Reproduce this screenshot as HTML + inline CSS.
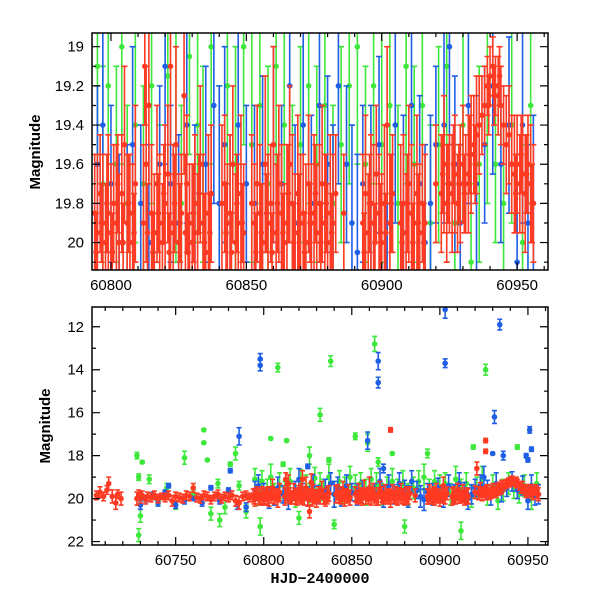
<!DOCTYPE html>
<html><head><meta charset="utf-8"><style>
body{margin:0;background:#fff;}
svg text{font-family:"Liberation Sans",sans-serif;font-size:15px;fill:#000;}
</style></head><body>
<svg id="chart" width="600" height="600" viewBox="0 0 600 600" xmlns="http://www.w3.org/2000/svg">
<defs>
<clipPath id="clipTop"><rect x="92" y="33" width="456" height="237"/></clipPath>
<clipPath id="clipBot"><rect x="92" y="307" width="456" height="238"/></clipPath>
</defs>
<g id="topMarks" clip-path="url(#clipTop)"></g>
<g id="botMarks" clip-path="url(#clipBot)"></g>
<g id="axes"></g>
<text x="40" y="152" transform="rotate(-90 40 152)" text-anchor="middle" style="font-weight:bold;font-size:15px">Magnitude</text>
<text x="50" y="426" transform="rotate(-90 50 426)" text-anchor="middle" style="font-weight:bold;font-size:15px">Magnitude</text>
<text x="320" y="583" text-anchor="middle" style="font-family:'Liberation Mono',monospace;font-weight:bold;font-size:15px">HJD−2400000</text>
</svg>
<script>
const redPoints=[[60705,19.85,0.2],[60707,19.7,0.25],[60709,19.9,0.2],[60711,19.6,0.2],[60712,19.3,0.3],[60714,19.9,0.3],[60716,20.2,0.3],[60717,19.8,0.2],[60719,20.0,0.3],
[60728,20.0,0.3],[60729,19.8,0.2],[60730,19.95,0.25],[60731,19.85,0.2],[60733,20.05,0.2],[60734,19.9,0.2],[60736,19.95,0.2],[60738,19.85,0.2],[60740,20.0,0.2],[60742,19.9,0.15],[60744,19.95,0.2],[60746,19.85,0.2],[60748,20.1,0.25],[60750,19.9,0.2],[60752,19.95,0.2],[60754,20.0,0.2],[60756,19.85,0.2],[60758,19.9,0.2],[60760,19.5,0.2],[60762,19.95,0.2],[60764,20.0,0.2],[60766,19.85,0.2],[60768,19.9,0.2],[60770,20.05,0.2],[60772,19.9,0.2],[60774,19.8,0.2],[60776,20.0,0.2],[60778,19.9,0.2],[60780,19.95,0.2],[60782,19.85,0.2],[60784,20.1,0.25],[60786,20.2,0.3],[60788,19.9,0.2],[60790,19.85,0.2],[60792,19.95,0.2],
[60794,19.85,0.3],[60795,19.95,0.4],[60796,19.75,0.3],[60797,19.9,0.35],[60798,20.0,0.3],[60799,19.85,0.4],[60800,19.95,0.35],[60801,19.8,0.3],[60802,19.9,0.4],[60803,20.0,0.35],[60804,19.75,0.3],[60805,19.5,0.4],[60806,19.9,0.35],[60807,19.85,0.3],[60808,20.0,0.4],[60809,19.7,0.4],
[60812,19.9,0.4],[60812.5,19.1,0.3],[60813,19.6,0.5],[60814,19.3,0.4],[60815,19.85,0.35],[60816,19.95,0.3],[60817,19.7,0.4],[60818,19.9,0.35],[60819,20.0,0.3],[60820,19.8,0.4],[60821,19.65,0.35],[60822,19.95,0.3],[60823,19.9,0.4],[60824,19.5,0.5],[60825,20.0,0.35],[60826,19.85,0.3],[60827,19.25,0.4],[60827.5,19.95,0.4],[60828,19.7,0.35],[60829,19.9,0.3],[60830,20.0,0.4],[60831,19.8,0.35],[60832,19.95,0.3],[60833,19.6,0.4],[60834,19.9,0.35],[60835,20.05,0.3],[60836,19.85,0.4],[60837,19.75,0.35],
[60841,19.8,0.4],[60842,19.7,0.35],[60843,19.9,0.3],[60844,19.85,0.4],[60845,19.6,0.4],[60846,20.0,0.35],[60847,19.9,0.3],[60848,19.75,0.4],[60849,19.95,0.35],
[60852,19.8,0.35],[60853,19.9,0.3],[60854,19.7,0.4],[60855,19.85,0.35],[60856,20.0,0.3],[60857,19.6,0.45],[60858,19.9,0.35],[60859,19.8,0.3],[60860,19.5,0.5],[60861,19.95,0.35],[60862,19.7,0.4],[60863,19.85,0.35],[60864,20.0,0.3],[60865,19.9,0.4],[60866,19.6,0.4],[60867,19.8,0.35],[60868,19.95,0.3],[60869,19.75,0.4],[60870,19.9,0.35],[60871,19.85,0.3],[60872,20.0,0.4],[60873,19.7,0.35],[60874,19.9,0.3],[60875,19.85,0.4],[60876,19.95,0.35],[60877,19.8,0.3],[60878,19.7,0.4],[60879,19.9,0.35],[60880,20.0,0.3],[60881,19.85,0.4],[60882,19.9,0.35],[60883,19.75,0.3],
[60886,19.85,0.3],[60893,19.9,0.35],[60894,19.75,0.4],[60895,19.95,0.3],[60896,19.8,0.35],[60897,19.9,0.4],[60898,19.65,0.35],[60899,19.85,0.3],[60900,20.0,0.35],[60901,19.8,0.4],[60902,19.4,0.4],[60903,19.9,0.35],[60904,19.75,0.3],
[60907,19.9,0.4],[60908,19.8,0.35],[60909,19.95,0.3],[60910,19.7,0.4],[60911,19.85,0.35],[60912,19.9,0.3],[60913,19.75,0.4],[60914,19.95,0.35],[60915,19.8,0.3],[60916,19.9,0.35],
[60920,19.7,0.3],[60922,19.75,0.3],[60923,19.6,0.35],[60924,19.8,0.3],[60925,19.7,0.25],[60926,19.75,0.3],[60927,19.65,0.3],[60928,19.8,0.25],[60929,19.7,0.3],[60930,19.6,0.3],[60931,19.7,0.25],[60932,19.65,0.3],[60933,19.55,0.3],[60934,19.5,0.25],[60935,19.45,0.3],[60936,19.4,0.25],[60937,19.35,0.2],[60938,19.3,0.2],[60939,19.2,0.15],[60940,19.15,0.15],[60941,19.1,0.15],[60942,19.2,0.15],[60943,19.25,0.2],[60944,19.3,0.2],[60945,19.4,0.2],[60946,19.5,0.25],[60947,19.45,0.25],[60948,19.6,0.25],[60949,19.65,0.3],[60950,19.6,0.25],[60951,19.7,0.25],[60952,19.65,0.3],[60953,19.75,0.3],[60954,19.6,0.25],[60955,19.7,0.3],[60956,19.8,0.3],
[60794.5,20.05,0.2],[60796.5,19.9,0.2],[60798.5,19.8,0.25],[60800.5,20.05,0.2],[60802.5,19.7,0.25],[60804.5,20.0,0.2],[60806.5,19.8,0.25],[60808.5,19.95,0.2],[60813.5,19.95,0.25],[60815.5,20.05,0.2],[60817.5,19.85,0.2],[60819.5,19.75,0.25],[60821.5,20.05,0.2],[60823.5,19.8,0.25],[60825.5,19.9,0.2],[60828.5,20.05,0.2],[60830.5,19.85,0.25],[60832.5,19.75,0.2],[60834.5,20.0,0.25],[60836.5,19.95,0.2],
[60842.5,19.95,0.25],[60844.5,20.05,0.2],[60846.5,19.8,0.25],[60848.5,19.9,0.2],[60853.5,20.05,0.2],[60855.5,19.95,0.25],[60857.5,19.85,0.2],[60859.5,20.05,0.2],[60861.5,19.8,0.25],[60863.5,19.95,0.2],[60865.5,19.75,0.25],[60867.5,20.0,0.2],[60869.5,19.9,0.25],[60871.5,20.05,0.2],[60873.5,19.9,0.2],[60875.5,19.75,0.25],[60877.5,20.0,0.2],[60879.5,19.8,0.25],[60881.5,19.95,0.2],
[60893.5,20.05,0.2],[60895.5,19.8,0.25],[60897.5,20.0,0.2],[60899.5,19.95,0.25],[60901.5,19.95,0.2],[60903.5,19.8,0.25],[60907.5,20.0,0.2],[60909.5,19.8,0.25],[60911.5,20.0,0.2],[60913.5,19.9,0.25],[60915.5,20.0,0.2],
[60922.5,19.65,0.2],[60924.5,19.7,0.2],[60926.5,19.6,0.2],[60928.5,19.7,0.2],[60930.5,19.75,0.2],[60932.5,19.55,0.2],[60934.5,19.6,0.2],[60939.5,19.3,0.15],[60941.5,19.25,0.15],[60943.5,19.15,0.15],[60949.5,19.75,0.2],[60951.5,19.55,0.2],[60953.5,19.65,0.2],[60955.5,19.8,0.2],
[60921,18.6,0.3],[60926,17.3,0.1],[60926,17.8,0.1],[60872,16.8,0.1],[60822,19.1,0.4],[60826,20.6,0.3]];
const bluePoints=[[60730,20.3,0.2],[60733,20.0,0.15],[60737,19.8,0.1],[60740,20.2,0.15],[60744,19.7,0.1],[60746,19.4,0.1],[60750,20.3,0.15],[60755,20.1,0.15],[60760,20.0,0.1],[60765,20.2,0.15],[60770,19.5,0.1],[60775,20.1,0.15],[60780,19.6,0.1],[60785,20.3,0.2],[60790,20.4,0.2],
[60795,19.6,0.4],[60797,19.4,0.5],[60800,19.7,0.4],[60803,20.0,0.45],[60806,19.9,0.4],[60808,19.5,0.5],[60811,19.8,0.4],[60814,20.0,0.5],[60818,19.6,0.4],[60820,19.1,0.5],[60822,19.7,0.4],[60825,19.9,0.45],[60828,19.4,0.5],[60831,19.8,0.4],[60835,19.6,0.5],[60838,19.3,0.5],[60840,19.8,0.6],[60842,19.5,0.5],[60844,19.9,0.45],[60847,19.4,0.5],[60850,19.7,0.4],[60853,19.8,0.5],[60856,19.6,0.45],[60860,19.5,0.5],[60863,19.7,0.4],[60866,19.2,0.6],[60868,19.9,0.5],[60871,19.4,0.5],[60874,19.8,0.45],[60877,19.3,0.5],[60880,19.6,0.45],[60882,19.9,0.5],[60884,19.2,0.5],[60887,19.6,0.4],[60889,19.9,0.5],[60891,20.05,0.5],[60893,19.7,0.4],[60896,19.8,0.5],[60899,19.5,0.45],[60902,19.9,0.5],[60905,19.4,0.5],[60908,19.8,0.45],[60911,19.3,0.5],[60914,19.7,0.45],[60916,20.0,0.5],[60918,19.8,0.45],[60920,19.5,0.4],[60923,19.4,0.5],[60925,19.0,0.5],[60927,19.6,0.45],[60929,19.9,0.4],[60932,19.3,0.5],[60935,19.7,0.45],[60938,19.5,0.4],[60941,19.2,0.45],[60944,19.6,0.4],[60947,19.4,0.45],[60950,20.1,0.4],[60952,19.4,0.5],[60954,19.9,0.4],[60956,19.8,0.45],
[60798,13.5,0.25],[60798,13.8,0.25],[60865,13.6,0.4],[60865,14.6,0.25],[60903,11.2,0.4],[60903,13.7,0.2],[60934,11.9,0.25],[60931,16.2,0.3],[60951,16.8,0.15],[60786,17.1,0.4],[60859,17.3,0.4],[60930,17.9,0.05],[60936,18.0,0.2],[60949,18.0,0.1],[60952,17.7,0.1],[60950,18.2,0.1],[60781,18.7,0.1],[60825,18.5,0.1],[60868,18.6,0.2]];
const greenPoints=[[60729,21.7,0.3],[60730,20.8,0.3],[60728,18.0,0.15],[60731,18.3,0.05],[60729,19.0,0.15],[60755,18.1,0.3],[60766,16.8,0.05],[60766,17.4,0.05],[60768,18.2,0.05],[60784,17.9,0.3],[60781,18.4,0.1],[60798,21.3,0.4],[60804,17.2,0.05],[60808,13.9,0.2],[60813,17.3,0.05],[60811,18.4,0.1],[60838,13.6,0.25],[60832,16.1,0.3],[60837,18.2,0.1],[60826,18.0,0.4],[60852,17.1,0.15],[60863,12.8,0.35],[60859,17.4,0.4],[60873,17.9,0.05],[60880,21.3,0.3],[60893,17.9,0.2],[60926,14.0,0.25],[60919,17.6,0.1],[60944,17.6,0.1],[60912,21.5,0.4],[60840,21.2,0.2],[60865,18.3,0.2],[60775,21.0,0.3],[60820,20.9,0.3],
[60735,19.1,0.2],[60740,20.1,0.2],[60745,19.5,0.2],[60750,20.3,0.2],[60760,19.8,0.2],[60770,20.7,0.3],[60774,19.3,0.2],[60778,20.4,0.3],[60786,19.4,0.2],[60790,20.6,0.3],
[60795,19.1,0.5],[60797,19.7,0.6],[60799,19.2,0.5],[60802,19.6,0.5],[60804,19.0,0.6],[60806,19.8,0.5],[60809,19.4,0.6],[60812,19.7,0.5],[60815,19.2,0.6],[60818,19.9,0.5],[60821,19.15,0.5],[60824,19.5,0.6],[60826,19.8,0.5],[60829,19.05,0.5],[60832,19.4,0.6],[60834,19.6,0.5],[60837,19.0,0.6],[60840,19.8,0.6],[60843,19.2,0.5],[60846,19.6,0.6],[60849,19.0,0.5],[60852,19.5,0.6],[60855,19.3,0.5],[60858,19.7,0.6],[60861,19.1,0.5],[60864,19.4,0.6],[60867,19.8,0.5],[60870,19.5,0.5],[60873,19.2,0.6],[60876,19.6,0.5],[60879,19.3,0.6],[60882,19.8,0.5],[60885,19.5,0.5],[60888,19.2,0.5],[60891,19.0,0.6],[60894,19.6,0.5],[60897,19.2,0.5],[60900,19.5,0.6],[60903,19.3,0.5],[60906,19.8,0.5],[60909,19.1,0.6],[60912,19.6,0.5],[60915,19.3,0.5],[60918,19.9,0.5],[60921,19.5,0.5],[60924,19.1,0.6],[60927,19.9,0.4],[60930,19.4,0.5],[60933,20.1,0.4],[60936,19.6,0.5],[60939,19.3,0.5],[60942,19.6,0.4],[60945,19.8,0.4],[60948,19.4,0.5],[60952,20.0,0.5],[60955,19.3,0.5]];
const topXTicks=[60800,60850,60900,60950];
const topYTicks=[19,19.2,19.4,19.6,19.8,20];
const botXTicks=[60750,60800,60850,60900,60950];
const botYTicks=[12,14,16,18,20,22];

const NS="http://www.w3.org/2000/svg";
function mk(tag,attrs,parent){const e=document.createElementNS(NS,tag);for(const k in attrs)e.setAttribute(k,attrs[k]);parent.appendChild(e);return e;}
const L=92,R=548;
const pTop={x0:60793,x1:60961.4,y0:18.93,y1:20.14,t:33,b:270};
const pBot={x0:60702.5,x1:60961.4,y0:11.08,y1:22.16,t:307,b:545};
function sx(p,v){return L+(v-p.x0)/(p.x1-p.x0)*(R-L);}
function sy(p,v){return p.t+(v-p.y0)/(p.y1-p.y0)*(p.b-p.t);}
const series=[["green",greenPoints,"#3ee83a"],["blue",bluePoints,"#1f5fe6"],["red",redPoints,"#ff3a22"]];
function drawPanel(p,g,r,cap,name){
  series.forEach(([nm,pts,col])=>{
    const sg=mk("g",{},g);
    
    
    pts.forEach(d=>{
      const x=sx(p,d[0]),y=sy(p,d[1]),ya=sy(p,d[1]-d[2]),yb=sy(p,d[1]+d[2]);
      mk("path",{d:`M${x},${ya}V${yb}M${x-cap},${ya}H${x+cap}M${x-cap},${yb}H${x+cap}`,stroke:col,"stroke-width":1.6,fill:"none"},sg);
      const c=mk("circle",{cx:x,cy:y,r:r,fill:col},sg);
      
      
    });
  });
}
drawPanel(pTop,document.getElementById("topMarks"),2.8,3,"top");
drawPanel(pBot,document.getElementById("botMarks"),2.8,2.5,"bottom");
const ax=document.getElementById("axes");
function frame(p,xt,yt,xminor,yminor,yfmt){
  mk("rect",{x:L,y:p.t,width:R-L,height:p.b-p.t,fill:"none",stroke:"#000","stroke-width":1.5},ax);
  for(let v=Math.ceil(p.x0/xminor)*xminor;v<=p.x1;v+=xminor){
    const x=sx(p,v),big=xt.includes(v)?8:4;
    mk("path",{d:`M${x},${p.b}v${-big}M${x},${p.t}v${big}`,stroke:"#000","stroke-width":1.2},ax);
  }
  for(let i=Math.ceil(p.y0/yminor-1e-6);i*yminor<=p.y1+1e-9;i++){
    const v=+(i*yminor).toFixed(3),y=sy(p,v),big=yt.some(t=>Math.abs(t-v)<1e-6)?8:4;
    mk("path",{d:`M${L},${y}h${big}M${R},${y}h${-big}`,stroke:"#000","stroke-width":1.2},ax);
  }
  xt.forEach(v=>{const t=mk("text",{x:sx(p,v),y:p.b+20,"text-anchor":"middle"},ax);t.textContent=v;
    
    });
  yt.forEach(v=>{const t=mk("text",{x:L-8,y:sy(p,v)+5,"text-anchor":"end"},ax);t.textContent=yfmt(v);
    
    });
}
frame(pTop,topXTicks,topYTicks,10,0.1,v=>v===19||v===20?String(v):v.toFixed(1));
frame(pBot,botXTicks,botYTicks,10,1,v=>String(v));
</script>
</body></html>
